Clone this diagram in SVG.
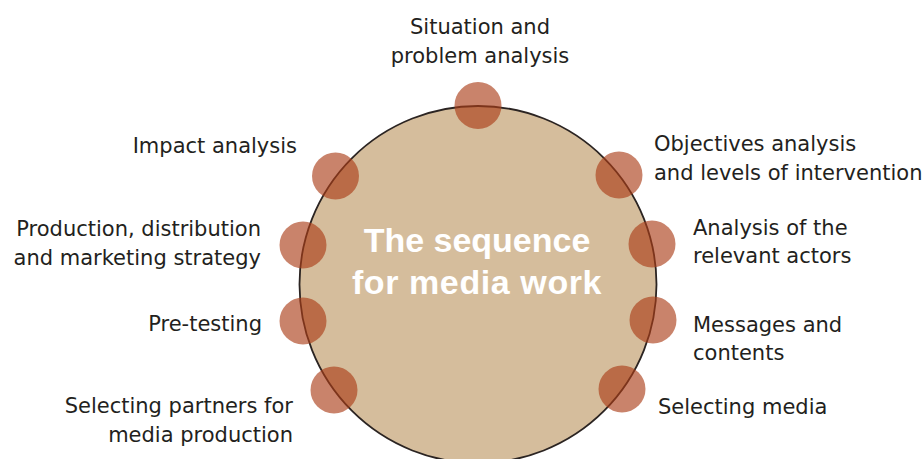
<svg xmlns="http://www.w3.org/2000/svg" width="924" height="459" viewBox="0 0 924 459">
  <style>
    .lbl { font-family: "DejaVu Sans", "Liberation Sans", sans-serif; font-size: 21px; fill: #231f20; }
    .title { font-family: "Liberation Sans", Arial, sans-serif; font-size: 34px; font-weight: bold; fill: #ffffff; }
    .dot { fill: #ab3d17; fill-opacity: 0.64; }
  </style>
  <rect width="924" height="459" fill="#ffffff"/>

  <!-- central cycle -->
  <g id="hub">
    <circle cx="478" cy="284.5" r="178.5" fill="#d5bd9c" stroke="#2b2422" stroke-width="1.8"/>
    <text class="title" x="477" y="252" text-anchor="middle">The sequence</text>
    <text class="title" x="477" y="294" text-anchor="middle" letter-spacing="0.6">for media work</text>
  </g>

  <!-- the steps, each a marker on the ring plus its label -->
  <g id="step-situation">
    <circle class="dot" cx="478" cy="105.5" r="23.5"/>
    <text class="lbl" x="480" y="34" text-anchor="middle">Situation and</text>
    <text class="lbl" x="480" y="63" text-anchor="middle">problem analysis</text>
  </g>
  <g id="step-objectives">
    <circle class="dot" cx="619" cy="175" r="23.5"/>
    <text class="lbl" x="654" y="151">Objectives analysis</text>
    <text class="lbl" x="654" y="180">and levels of intervention</text>
  </g>
  <g id="step-actors">
    <circle class="dot" cx="652" cy="244" r="23.5"/>
    <text class="lbl" x="693" y="235">Analysis of the</text>
    <text class="lbl" x="693" y="263">relevant actors</text>
  </g>
  <g id="step-messages">
    <circle class="dot" cx="653" cy="320" r="23.5"/>
    <text class="lbl" x="693" y="332">Messages and</text>
    <text class="lbl" x="693" y="360">contents</text>
  </g>
  <g id="step-media">
    <circle class="dot" cx="622" cy="389" r="23.5"/>
    <text class="lbl" x="658" y="414">Selecting media</text>
  </g>
  <g id="step-partners">
    <circle class="dot" cx="334" cy="390" r="23.5"/>
    <text class="lbl" x="293" y="413" text-anchor="end">Selecting partners for</text>
    <text class="lbl" x="293" y="442" text-anchor="end">media production</text>
  </g>
  <g id="step-pretesting">
    <circle class="dot" cx="303" cy="321" r="23.5"/>
    <text class="lbl" x="262" y="331" text-anchor="end">Pre-testing</text>
  </g>
  <g id="step-production">
    <circle class="dot" cx="303" cy="245" r="23.5"/>
    <text class="lbl" x="261" y="236" text-anchor="end">Production, distribution</text>
    <text class="lbl" x="261" y="265" text-anchor="end">and marketing strategy</text>
  </g>
  <g id="step-impact">
    <circle class="dot" cx="335.5" cy="176" r="23.5"/>
    <text class="lbl" x="297" y="153" text-anchor="end">Impact analysis</text>
  </g>

  <!-- the cycle has no drawn connectors; group kept for structure -->
  <g id="connectors"/>
</svg>
